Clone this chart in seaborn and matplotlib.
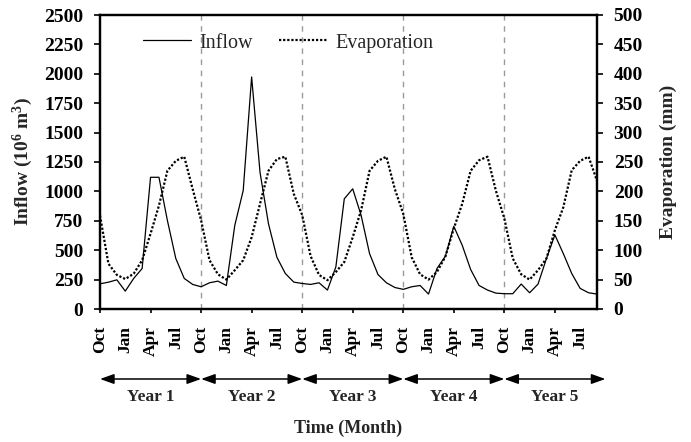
import numpy as np
import pandas as pd
import matplotlib
matplotlib.use("Agg")
import matplotlib.pyplot as plt
import seaborn as sns
from matplotlib import transforms
from matplotlib.lines import Line2D

# ---------------- data ----------------
months = ["Oct", "Nov", "Dec", "Jan", "Feb", "Mar", "Apr", "May", "Jun", "Jul", "Aug", "Sep"]
years = ["Year 1", "Year 2", "Year 3", "Year 4", "Year 5"]
tick_labels = ["Oct", "Jan", "Apr", "Jul"] * 5

inflow = [
    214, 228, 248, 152, 260, 344, 1120, 1120, 753, 429, 260, 209,
    189, 223, 237, 200, 711, 1007, 1973, 1160, 725, 440, 302, 229,
    217, 209, 223, 161, 358, 937, 1022, 796, 471, 293, 223, 183,
    167, 189, 200, 127, 344, 449, 703, 542, 336, 200, 161, 135,
    130, 130, 212, 138, 212, 429, 630, 471, 302, 175, 138, 127,
]
evaporation = [
    159, 77, 58, 51, 60, 83, 128, 176, 235, 252, 259, 204,
    151, 83, 59, 50, 66, 83, 122, 179, 235, 255, 259, 196,
    160, 90, 58, 49, 63, 80, 122, 168, 235, 252, 259, 204,
    162, 88, 59, 50, 63, 89, 137, 179, 235, 253, 259, 201,
    154, 86, 59, 50, 66, 86, 134, 173, 236, 252, 259, 218,
]

# ---------------- style ----------------
sns.set_style("ticks")
plt.rcParams["font.family"] = ["Liberation Serif", "DejaVu Serif"]
plt.rcParams["mathtext.fontset"] = "custom"
plt.rcParams["mathtext.rm"] = "Liberation Serif:bold"
plt.rcParams["mathtext.it"] = "Liberation Serif:italic:bold"
plt.rcParams["mathtext.bf"] = "Liberation Serif:bold"

df = pd.DataFrame({
    "t": np.arange(len(inflow)),
    "Month": [months[i % 12] for i in range(len(inflow))],
    "Inflow": inflow,
    "Evaporation": evaporation,
})

W, H = 691, 442
fig = plt.figure(figsize=(W / 100, H / 100), dpi=100)
ax = fig.add_axes([100 / W, 1 - 309 / H, 497 / W, 294 / H])
ax2 = ax.twinx()

sns.lineplot(data=df, x="t", y="Inflow", ax=ax, color="black", lw=0.9)
sns.lineplot(data=df, x="t", y="Evaporation", ax=ax2, color="black",
             lw=1.6, linestyle=(0, (1, 0.85)))

# year separators
for k in range(1, 5):
    ax.axvline(12 * k, color="#9a9a9a", lw=1.0, dashes=(4, 4), zorder=0)

ax.set_xlim(0, 59)
ax.set_ylim(0, 2500)
ax2.set_ylim(0, 500)

ax.set_yticks(np.arange(0, 2501, 250), labels=[str(v) for v in range(0, 2501, 250)],
              fontweight="bold", fontsize=14)
ax2.set_yticks(np.arange(0, 501, 50), labels=[str(v) for v in range(0, 501, 50)],
               fontweight="bold", fontsize=14)
ax.set_xticks(np.arange(0, 60, 3), labels=tick_labels, rotation=90,
              fontweight="bold", fontsize=12.5)
for i, t in enumerate(ax.xaxis.get_major_ticks()):
    if i % 2:
        t.tick1line.set_visible(False)

ax.tick_params(axis="y", direction="out", length=4, width=1.2, pad=8, colors="black")
ax2.tick_params(axis="y", direction="out", length=4, width=1.2, pad=8, colors="black")
ax.tick_params(axis="x", direction="out", length=3, width=1.2, pad=9, colors="black")

for a in (ax, ax2):
    for s in a.spines.values():
        s.set_linewidth(1.6)
        s.set_color("black")
        s.set_visible(True)

ax.set_xlabel("")
ax.set_ylabel(r"Inflow (10$^6$ m$^3$)", fontsize=14, fontweight="bold")
ax.yaxis.set_label_coords(-0.13, 0.5)
ax2.set_ylabel("Evaporation (mm)", fontsize=14, fontweight="bold")
ax2.yaxis.set_label_coords(1.127, 0.5)

# legend
handles = [
    Line2D([], [], color="black", lw=0.9),
    Line2D([], [], color="black", lw=1.6, linestyle=(0, (1, 0.85))),
]
fig.legend(handles, ["Inflow", "Evaporation"], loc="center left",
           bbox_to_anchor=(143 / W, 1 - 43 / H), bbox_transform=fig.transFigure,
           ncol=2, frameon=False, fontsize=14.5, handlelength=2.4,
           handletextpad=0.4, columnspacing=1.3, borderpad=0, borderaxespad=0)

# year arrows
trans = transforms.blended_transform_factory(ax.transData, fig.transFigure)
y_arrow = 1 - 379 / H
y_year = 1 - 397 / H
for k, name in enumerate(years):
    ax.annotate("", xy=(12 * k + 12, y_arrow), xytext=(12 * k, y_arrow),
                xycoords=trans, textcoords=trans, annotation_clip=False,
                arrowprops=dict(arrowstyle="<|-|>,head_length=0.7,head_width=0.25",
                                color="black", lw=1.1, shrinkA=0, shrinkB=0,
                                mutation_scale=12))
    ax.text(12 * k + 6, y_year, name, transform=trans, ha="center", va="center",
            fontsize=12.5, fontweight="bold")

fig.text(348.5 / W, 1 - 428 / H, "Time (Month)", ha="center", va="center",
         fontsize=13, fontweight="bold")

fig.savefig("out.png", dpi=100)
